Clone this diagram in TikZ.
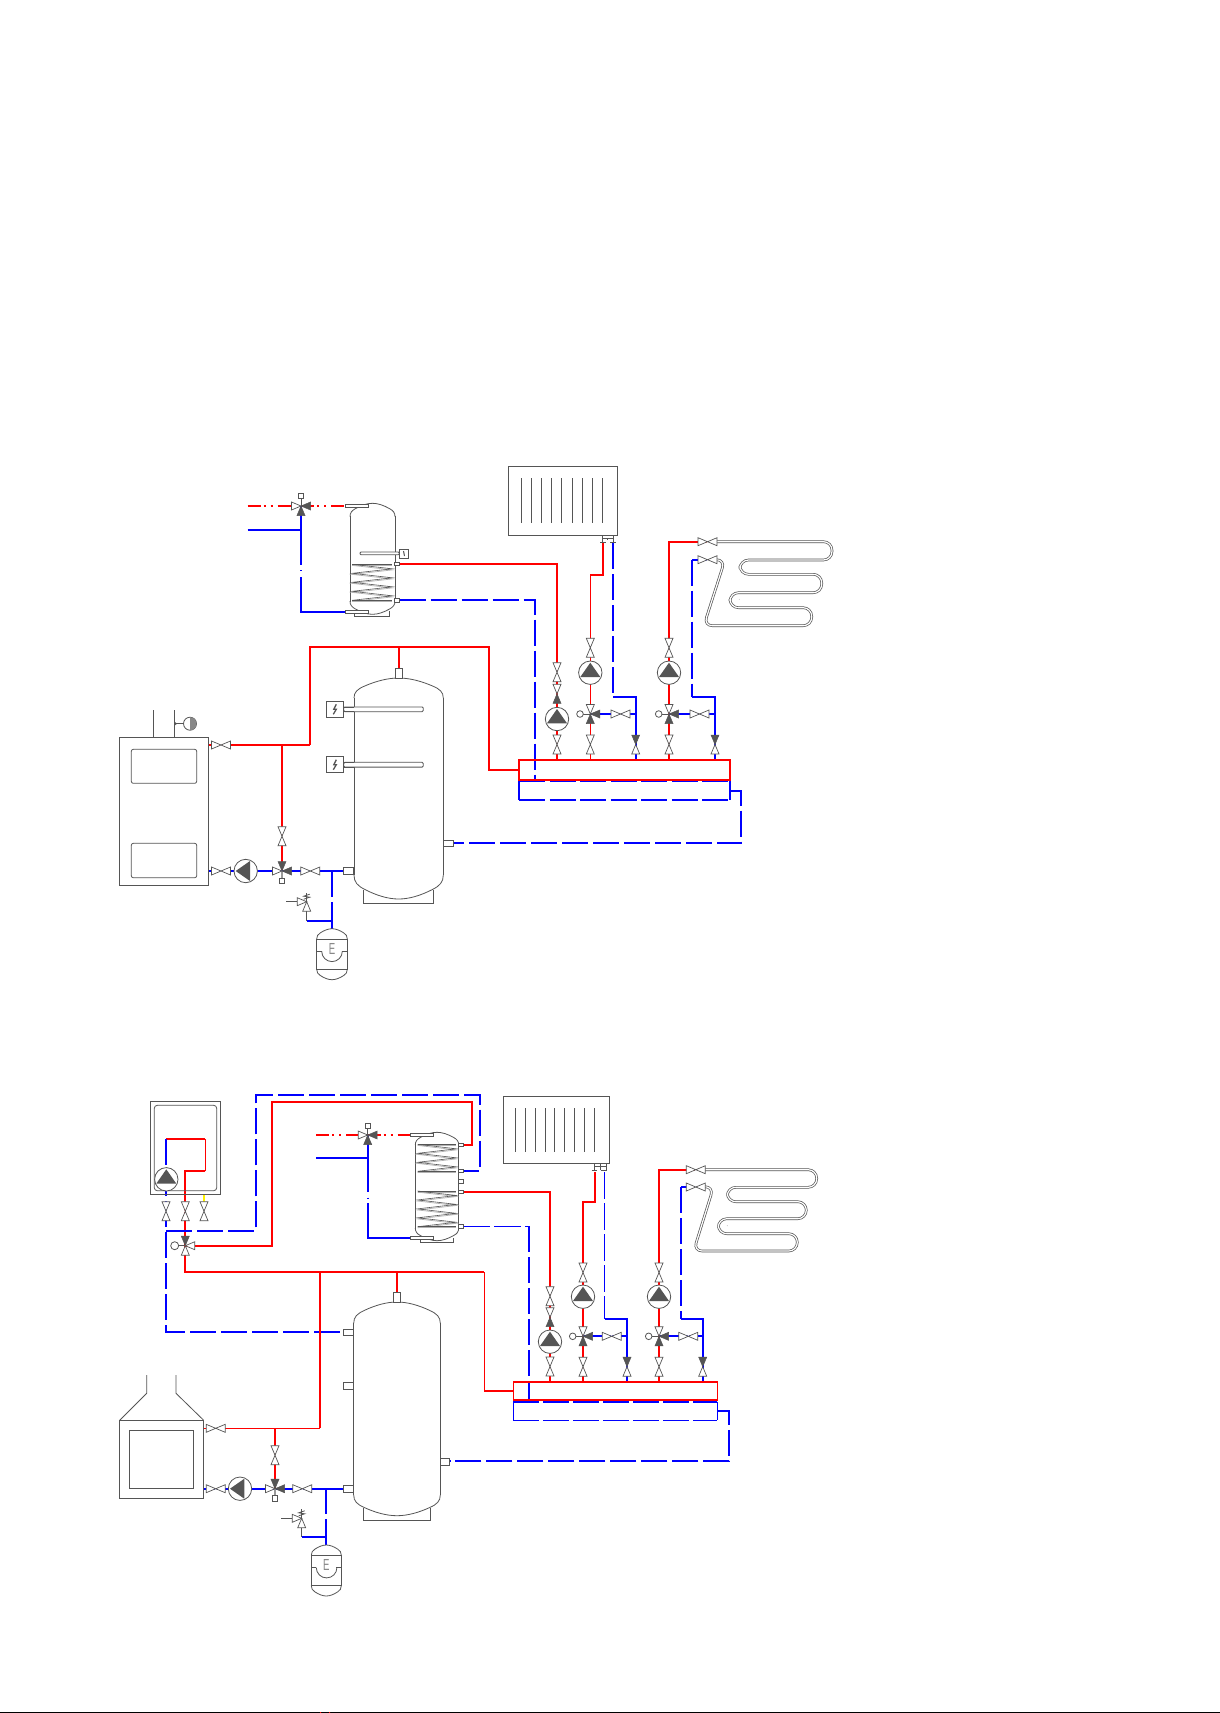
\documentclass[tikz,border=0pt]{standalone}
\usepackage{fontspec}
\setsansfont{Liberation Sans}
\definecolor{gr}{HTML}{555555}
\tikzset{
 gline/.style={draw=gr,line width=.8pt},
 opentri/.style={draw=gr,line width=.7pt,fill=white},
 filltri/.style={draw=gr,line width=.5pt,fill=gr},
 hot/.style={draw=red,line width=2pt},
 hotthin/.style={draw=red,line width=1.2pt},
 cold/.style={draw=blue,line width=2pt},
 coldthin/.style={draw=blue,line width=1.1pt},
 colddash/.style={draw=blue,line width=2pt,dash pattern=on 26pt off 5pt},
 coldthindash/.style={draw=blue,line width=1.1pt,dash pattern=on 27pt off 4pt},
 dhw/.style={draw=red,line width=2pt,dash pattern=on 13pt off 3pt on 2pt off 5pt on 2pt off 5pt},
 coilpipe/.style={draw=gr,line width=.7pt,double=white,double distance=1.2pt,rounded corners=8.5pt},
 portbox/.style={gline,fill=white},
 letterE/.style={text=gr!70,font=\sffamily\fontsize{16}{16}\selectfont,xscale=.6,inner sep=0pt},
}
% #1 x, #2 y, #3 direction the triangle opens to, #4 style
\newcommand\tri[4]{\draw[#4,shift={(#1,#2)},rotate=#3] (0,0)--(9.5,-4)--(9.5,4)--cycle;}
\newcommand\vlv[3]{\fill[white] (#1,#2) circle[radius=1.6];\tri{#1}{#2}{#3}{opentri}\tri{#1}{#2}{#3+180}{opentri}}
\newcommand\pump[3]{\draw[gline,fill=white] (#1,#2) circle[radius=11.7];
  \fill[gr,shift={(#1,#2)},rotate=#3] (10,0)--(-4.3,-10)--(-4.3,10)--cycle;}
% mixing valve of a heating circuit: open top, filled right and bottom, knob at left
\newcommand\mixcirc[2]{\draw[gline] (#1-7,#2)--(#1,#2);
  \draw[gline,fill=white] (#1-10.3,#2) circle[radius=3.3];
  \tri{#1}{#2}{90}{opentri}\tri{#1}{#2}{0}{filltri}\tri{#1}{#2}{270}{filltri}}
\newcommand\square[2]{\draw[gline,fill=white] (#1-2.6,#2-2.6) rectangle (#1+2.6,#2+2.6);}
% dome from shoulder y #3 to apex y #4 between x #1 and #2
\newcommand\dome[4]{\draw[gline] (#1,#3)
  .. controls (#1,{(#3)+.3*((#4)-(#3))}) and ({#1+.04*(#2-#1)},{(#3)+.45*((#4)-(#3))}) .. ({#1+.12*(#2-#1)},{(#3)+.6*((#4)-(#3))})
  .. controls ({#1+.25*(#2-#1)},{(#3)+.85*((#4)-(#3))}) and ({#1+.38*(#2-#1)},#4) .. ({.5*(#1+#2)},#4)
  .. controls ({#1+.62*(#2-#1)},#4) and ({#1+.75*(#2-#1)},{(#3)+.85*((#4)-(#3))}) .. ({#1+.88*(#2-#1)},{(#3)+.6*((#4)-(#3))})
  .. controls ({#1+.96*(#2-#1)},{(#3)+.45*((#4)-(#3))}) and (#2,{(#3)+.3*((#4)-(#3))}) .. (#2,#3);}
\newcommand\port[4]{\draw[portbox] (#1,#2) rectangle (#3,#4);}
% coil: x left, x right, y top, y bottom, segments
\newcommand\coil[5]{%
  \foreach \c/\o/\w in {gr!45/1.1/.7,gr/0/.6}{%
  \draw[draw=\c,line width=\w pt,yshift=-\o pt] (#1,#3)--(#2,#3);
  \draw[draw=\c,line width=\w pt,yshift=-\o pt] (#1,#4)--(#2,#4);
  \draw[draw=\c,line width=\w pt,yshift=-\o pt] (#1,#3)
    \foreach \i in {1,...,#5}{ --({mod(\i,2)==1 ? #2 : #1},{#3+\i*(#4-#3)/#5}) };}}
% heating element / sensor: box left x, y centre
\newcommand\heater[3]{%
  \draw[gline,fill=white,rounded corners=1.2pt] (#1+17.4,#2-2.4) rectangle (#1+#3,#2+2.4);
  \draw[gline] (#1+17.4,#2-2.4)--(#1+27.5,#2-2.4) (#1+17.4,#2+2.4)--(#1+27.5,#2+2.4);
  \draw[gline,fill=white] (#1,#2-8) rectangle (#1+17.4,#2+8);
  \draw[gline,line width=1.3pt] (#1+10,#2-5)--(#1+7.5,#2)--(#1+10,#2)--(#1+7,#2+5);}
\newcommand\safety[2]{%
  \tri{#1}{#2}{270}{opentri}\tri{#1}{#2}{180}{opentri}
  \draw[gline] (#1-20.7,#2)--(#1-10,#2) (#1,#2)--(#1,#2-9);
  \draw[gline] (#1-3,#2-2.5)--(#1+3,#2-4.5)--(#1-3,#2-5.5)--(#1+3,#2-7.5);}
% expansion vessel: x left, x right, y top
\newcommand\vessel[4]{%
  \dome{#1}{#2}{#3+10.3}{#3}
  \dome{#1}{#2}{#3+40.6}{#3+51}
  \draw[gline] (#1,#3+10.3) rectangle (#2,#3+40.6);
  \draw[gline] (#1,#3+22.6)--(#1+5,#3+22.6) (#2-5,#3+22.6)--(#2,#3+22.6);
  \draw[gline] (#1+5,#3+22.6) arc[start angle=180,end angle=0,radius=10.3];
  \node[letterE] (#4) at ({.5*(#1+#2)},#3+20) {E};}
\begin{document}
\begin{tikzpicture}[x=1pt,y=-1pt]
\useasboundingbox (0,0) rectangle (1220,1713);
\fill[white] (0,0) rectangle (1220,1713);
\fill[black] (0,1712) rectangle (1220,1713);
\fill[red] (320,1712) rectangle (321,1713) (329,1712) rectangle (330,1713);

%%%%%%%%%%%%%%%% TOP SYSTEM: pipes
\draw[dhw] (247.7,506)--(301,506);
\draw[dhw] (301,506)--(345,506);
\draw[cold] (247.7,530)--(301,530);
\draw[cold] (301,506)--(301,565);
\draw[cold] (301,570)--(301,571.2);
\draw[cold] (301,577)--(301,612)--(345.3,612);
\draw[hot] (399.7,564)--(557,564)--(557,760);
\draw[colddash] (399.7,600)--(535,600)--(535,780.7);
\draw[hot] (310,745)--(310,647)--(489,647)--(489,770)--(519,770);
\draw[hot] (399,647)--(399,668.3);
\draw[hot] (208.7,745)--(310,745);
\draw[hot] (282,745)--(282,871);
\draw[cold] (208.7,871)--(343.3,871);
\draw[cold] (332,871)--(332,896.7) (332,902.3)--(332,928.7);
\draw[cold] (332,920.7)--(306.7,920.7);
\draw[gline] (306.7,911)--(306.7,920.7);
% circuit pipes
\draw[hot] (603,543)--(603,575)--(590.3,575);
\draw[hotthin] (590.3,575)--(590.3,760);
\draw[colddash] (613,543)--(613,696.7);
\draw[cold] (613,696.7)--(635.7,696.7)--(635.7,760);
\draw[cold] (590.3,714)--(635.7,714);
\draw[hot] (707.5,541.7)--(669,541.7)--(669,760);
\draw[cold] (707.5,559.7)--(692,559.7);
\draw[colddash] (692,559.7)--(692,696.7);
\draw[cold] (692,696.7)--(715,696.7)--(715,760);
\draw[cold] (669,714)--(715,714);
% manifold
\draw[cold] (519,780.7)--(519,800) (730,780.7)--(730,800);
\draw[colddash,dash pattern=on 26pt off 4.5pt] (519,800)--(730,800);
\draw[colddash,dash pattern=on 26pt off 4.5pt] (519,781.2)--(730,781.2);
\draw[colddash] (730,790.7)--(741,790.7)--(741,843.3)--(453.3,843.3);
\draw[hot] (519,760) rectangle (730,780);

%%%%%%%%%%%%%%%% TOP SYSTEM: equipment
\tri{301}{506}{180}{opentri}\tri{301}{506}{0}{filltri}\tri{301}{506}{270}{filltri}
\draw[gline] (301,506)--(301,498);
\square{301}{496}
% DHW tank
\draw[gline] (350,516)--(350,602) (395,516)--(395,602);
\dome{350}{395}{516.7}{503.3}
\dome{350}{395}{601}{614.3}
\draw[gline] (354.3,613)--(354.3,616.3)--(389.7,616.3)--(389.7,611);
\port{345.3}{504.3}{368.7}{507.7}
\port{345.3}{610.3}{368.7}{613.7}
\coil{352.3}{392.3}{564.3}{600.3}{8}
\draw[gline,fill=white,rounded corners=1pt] (360,552)rectangle(399.3,554.8);
\draw[gline,fill=white] (399.3,549.3) rectangle (408.7,558);
\draw[gline,line width=1pt] (403.5,551)--(404.5,556);
\port{394.7}{562.3}{399.7}{565.7}
\port{394.7}{598.3}{399.7}{602.7}
% buffer tank
\draw[gline] (354,698)--(354,875) (443.3,698)--(443.3,875);
\dome{354}{443.3}{698}{678}
\dome{354}{443.3}{875}{899}
\draw[gline] (363.3,890)--(363.3,903.3)--(433.3,903.3)--(433.3,890);
\port{395.3}{668.3}{402.7}{678.3}
\heater{326.3}{709.3}{97}
\heater{326.3}{764.7}{97}
\port{343.3}{867.3}{353.3}{874.7}
\port{443.3}{840}{453.3}{846.7}
% boiler
\draw[gline] (119.3,737.3) rectangle (208.7,885.3);
\draw[gline,rounded corners=2pt] (131.3,749.3) rectangle (196.7,783.3);
\draw[gline,rounded corners=2pt] (131.3,843.3) rectangle (196.7,877.7);
\draw[gline] (153.3,710)--(153.3,737.3) (174.3,710)--(174.3,737.3);
\draw[gline] (174.3,723.7)--(184,723.7);
\fill[gr] (174.3,721.5)--(177,723.7)--(174.3,725.9)--cycle;
\draw[gline,fill=white] (190,723.7) circle[radius=6.5];
\fill[gr!70] (190,717.2) arc[start angle=-90,end angle=90,radius=6.5]--cycle;
\vlv{221}{745}{0}
\vlv{282}{836.2}{90}
\vlv{221}{871}{0}
\pump{245.7}{871}{180}
\draw[gr!60,line width=1.4pt] (282,871)--(282,878);
\tri{282}{871}{90}{filltri}\tri{282}{871}{0}{filltri}\tri{282}{871}{180}{opentri}
\square{282}{881}
\vlv{310.3}{871}{0}
\safety{306.7}{901.7}
\vessel{316.7}{347.3}{928.7}{vesselA}
% radiator
\draw[gline] (508.3,466.3) rectangle (617.3,535.3);
\foreach \x in {521.3,531.3,541.3,551.3,561.3,572.3,582.3,592.3,602.3}
  \draw[gline] (\x,478)--(\x,522.7);
\draw[gline,line width=.6pt] (602.3,535.3)--(602.3,542.3) (613.7,535.3)--(613.7,542.3) (600,542.3)--(606,542.3) (610,542.3)--(616,542.3) (602.3,538)--(613.7,538) (607.5,538)--(607.5,540);
% circuit symbols
\vlv{557}{672.2}{90}
\tri{557}{693.8}{90}{opentri}\tri{557}{693.8}{270}{filltri}
\pump{557}{719}{90}
\vlv{557}{744.5}{90}
\vlv{590.3}{647.8}{90}
\pump{590.3}{672.7}{90}
\mixcirc{590.3}{714}
\vlv{590.3}{744.5}{90}
\vlv{620.5}{714}{0}
\tri{635.7}{744.5}{90}{filltri}\tri{635.7}{744.5}{270}{opentri}
\vlv{669}{647.8}{90}
\pump{669}{672.7}{90}
\mixcirc{669}{714}
\vlv{669}{744.5}{90}
\vlv{699.5}{714}{0}
\tri{715}{744.5}{90}{filltri}\tri{715}{744.5}{270}{opentri}
% floor coil
\draw[coilpipe] (715,541.7)--(832,541.7)--(832,560)--(740,560)--(740,574.3)--(821.7,574.3)--(821.7,592.7)--(730,592.7)--(730,607.7)--(811.7,607.7)--(811.7,625.7)--(703.8,625.7)--(725,559.7)--(715,559.7);
\vlv{707.5}{541.7}{0}
\vlv{707.5}{559.7}{0}
\fill[gr!70] (739.3,599.3) circle[radius=.35];

%%%%%%%%%%%%%%%% BOTTOM SYSTEM: pipes
\draw[hot] (166,1139)--(205.3,1139);
\draw[hotthin] (205.3,1139)--(205.3,1170.7);
\draw[hot] (205.3,1170.7)--(185.3,1170.7)--(185.3,1272)--(484.3,1272);
\draw[colddash] (166,1139)--(166,1331.7)--(343.3,1331.7);
\draw[draw=yellow,line width=2pt] (204,1194.3)--(204,1203);
\draw[colddash] (166,1230.7)--(255.7,1230.7)--(255.7,1094.7)--(480,1094.7)--(480,1170.7)--(463.3,1170.7);
\draw[hot] (185.3,1245.7)--(272,1245.7)--(272,1102)--(472,1102)--(472,1145)--(463.3,1145);
\draw[hot] (396.7,1272)--(396.7,1292.3);
\draw[hotthin] (484.3,1272)--(484.3,1391);
\draw[hot] (484.3,1391)--(513.3,1391);
\draw[hot] (320,1272)--(320,1428.3);
\draw[hotthin] (320,1428.3)--(203.7,1428.3);
\draw[hot] (275,1428.3)--(275,1488.7);
\draw[cold] (203.7,1488.7)--(343.3,1488.7);
\draw[cold] (326,1488.7)--(326,1514.3) (326,1519.3)--(326,1545);
\draw[cold] (326,1537)--(301.7,1537);
\draw[gline] (301.7,1527.7)--(301.7,1537);
\draw[dhw] (316,1135)--(367.7,1135);
\draw[dhw] (367.7,1135)--(410,1135);
\draw[cold] (316,1158)--(367.7,1158);
\draw[cold] (367.7,1135)--(367.7,1192) (367.7,1197.5)--(367.7,1198.7) (367.7,1203)--(367.7,1237.7)--(410,1237.7);
\draw[hot] (463.3,1191.7)--(550,1191.7)--(550,1381.7);
\draw[coldthindash] (463.3,1226.3)--(529,1226.3);
\draw[colddash] (529,1226.3)--(529,1401.7);
\draw[hot] (595,1172)--(595,1202)--(583,1202)--(583,1381.7);
\draw[coldthindash] (604.7,1172)--(604.7,1319.3);
\draw[cold] (604.7,1319.3)--(627,1319.3)--(627,1381.7);
\draw[cold] (583,1336.3)--(627,1336.3);
\draw[hot] (695.8,1169.7)--(659,1169.7)--(659,1381.7);
\draw[cold] (695.8,1187)--(681,1187);
\draw[colddash] (681,1187)--(681,1319.3);
\draw[cold] (681,1319.3)--(702.7,1319.3)--(702.7,1381.7);
\draw[cold] (659,1336.3)--(702.7,1336.3);
% manifold
\draw[coldthin] (513.3,1401.7)--(513.3,1420.3) (717.3,1401.7)--(717.3,1420.3);
\draw[coldthindash,dash pattern=on 26pt off 4pt] (513.3,1420.3)--(717.3,1420.3);
\draw[colddash,dash pattern=on 26pt off 4pt] (513.3,1402)--(717.3,1402);
\draw[colddash] (717.3,1410.7)--(729,1410.7)--(729,1461.3)--(449.7,1461.3);
\draw[hotthin] (513.3,1381.7) rectangle (717.3,1400);
\draw[hot] (513.3,1381.7)--(717.3,1381.7) (513.3,1400)--(717.3,1400);

%%%%%%%%%%%%%%%% BOTTOM SYSTEM: equipment
% wall boiler
\draw[gline] (150.7,1101.7) rectangle (220.3,1194.3);
\draw[gline,rounded corners=3pt] (154.3,1105.3) rectangle (216.7,1190.7);
\pump{166.3}{1179.3}{90}
\vlv{166}{1211.2}{90}
\vlv{185.3}{1211.2}{90}
\vlv{204}{1211.2}{90}
\draw[gline] (185.3,1245.7)--(178,1245.7);
\draw[gline,fill=white] (174.7,1245.7) circle[radius=4];
\tri{185.3}{1245.7}{90}{filltri}\tri{185.3}{1245.7}{0}{opentri}\tri{185.3}{1245.7}{270}{opentri}
% DHW tank
\tri{367.7}{1135}{180}{opentri}\tri{367.7}{1135}{0}{filltri}\tri{367.7}{1135}{270}{filltri}
\draw[gline] (367.7,1135)--(367.7,1128);
\square{367.7}{1126}
\draw[gline] (415.3,1144)--(415.3,1229) (458.7,1144)--(458.7,1229);
\dome{415.3}{458.7}{1145}{1132.3}
\dome{415.3}{458.7}{1228}{1240.7}
\draw[gline] (420.3,1239)--(420.3,1242.7)--(453.7,1242.7)--(453.7,1238);
\port{410}{1133.3}{433.3}{1136.7}
\port{410}{1236}{433.3}{1239.3}
\coil{417.7}{456.3}{1144.3}{1171.3}{6}
\coil{417.7}{456.3}{1191}{1226.7}{8}
\port{458.7}{1143.3}{463.3}{1146.7}
\port{458.7}{1169}{463.3}{1172.4}
\port{458.7}{1179}{463.3}{1183.6}
\port{458.7}{1190}{463.3}{1193.4}
\port{458.7}{1224.3}{463.3}{1228.3}
% buffer tank
\draw[gline] (353.7,1323.3)--(353.7,1495) (440.3,1323.3)--(440.3,1495);
\dome{353.7}{440.3}{1323.3}{1302}
\dome{353.7}{440.3}{1495}{1515.7}
\draw[gline] (363.3,1508)--(363.3,1520.7)--(430.7,1520.7)--(430.7,1508);
\port{393.3}{1292.3}{400.7}{1302.3}
\port{343.3}{1329}{353.7}{1335.3}
\port{343.3}{1382.3}{353.7}{1389.7}
\port{343.3}{1485.3}{353.7}{1492.7}
\port{440.3}{1458.3}{449.7}{1465.3}
% stove
\draw[gline] (119.7,1420.3) rectangle (203.7,1498.3);
\draw[gline] (129.3,1430.3) rectangle (193.7,1488.3);
\draw[gline] (119.7,1420.3)--(146.7,1393.3)--(146.7,1375) (203.7,1420.3)--(176,1393.3)--(176,1375);
\vlv{215.7}{1428.3}{0}
\vlv{215.7}{1488.7}{0}
\pump{240}{1488.7}{180}
\vlv{275}{1455.2}{90}
\draw[gr!60,line width=1.4pt] (275,1488.7)--(275,1496);
\tri{275}{1488.7}{90}{filltri}\tri{275}{1488.7}{0}{filltri}\tri{275}{1488.7}{180}{opentri}
\square{275}{1498.3}
\vlv{302.3}{1488.7}{0}
\safety{301.7}{1518.3}
\vessel{311.3}{341.3}{1545}{vesselB}
% radiator
\draw[gline] (503.3,1096.3) rectangle (609.3,1163.3);
\foreach \x in {515.3,525.3,535.3,545.3,554.3,564.3,574.3,584.3,594.7}
  \draw[gline] (\x,1108)--(\x,1151.7);
\draw[gline,line width=.6pt] (594,1163.3)--(594,1170.3) (606,1163.3)--(606,1170.3) (591.7,1170.3)--(597.3,1170.3) (600.7,1170.3)--(606.7,1170.3) (594,1166)--(606,1166) (600,1163.3)--(600,1170.3);
% circuit symbols
\vlv{550}{1296.2}{90}
\tri{550}{1317.2}{90}{opentri}\tri{550}{1317.2}{270}{filltri}
\pump{550}{1341.7}{90}
\vlv{550}{1366.5}{90}
\vlv{583}{1272.5}{90}
\pump{583}{1296.7}{90}
\mixcirc{583}{1336.3}
\vlv{583}{1366.7}{90}
\vlv{611.7}{1336.3}{0}
\tri{627}{1366.7}{90}{filltri}\tri{627}{1366.7}{270}{opentri}
\vlv{659}{1272.5}{90}
\pump{659}{1296.7}{90}
\mixcirc{659}{1336.3}
\vlv{659}{1366.7}{90}
\vlv{688.3}{1336.3}{0}
\tri{702.7}{1366.7}{90}{filltri}\tri{702.7}{1366.7}{270}{opentri}
% floor coil
\draw[coilpipe] (703.3,1169.7)--(816.7,1169.7)--(816.7,1187.3)--(727.3,1187.3)--(727.3,1201.7)--(806.3,1201.7)--(806.3,1218.7)--(718.3,1218.7)--(718.3,1233.7)--(797.3,1233.7)--(797.3,1251)--(693.6,1251)--(713.6,1186.7)--(703.3,1186.7);
\vlv{695.8}{1169.7}{0}
\vlv{695.8}{1187}{0}
\fill[gr!70] (727.3,1225.7) circle[radius=.35];
\end{tikzpicture}
\end{document}
